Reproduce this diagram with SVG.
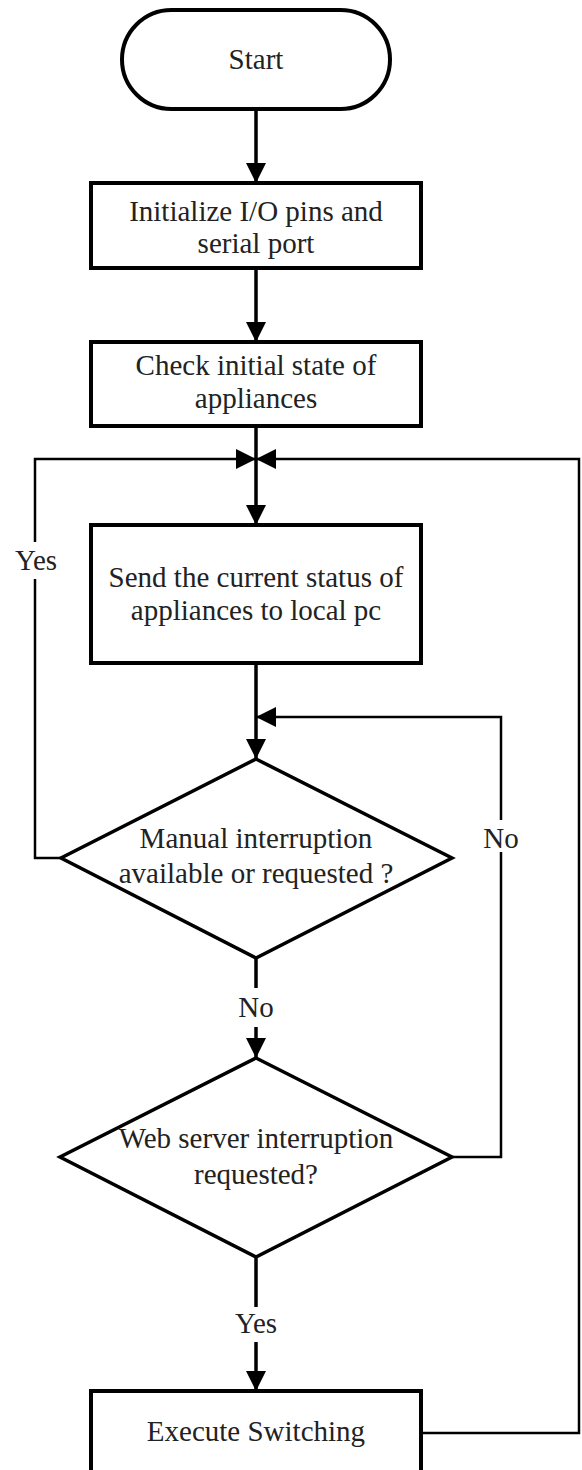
<svg xmlns="http://www.w3.org/2000/svg" width="582" height="1470" viewBox="0 0 582 1470">
  <style>
    .shape { fill: #fff; stroke: #000; stroke-width: 4; }
    .diam { fill: #fff; stroke: #000; stroke-width: 3.5; stroke-linejoin: miter; }
    .flow { fill: none; stroke: #000; stroke-width: 3.5; }
    .loop { fill: none; stroke: #000; stroke-width: 2.5; }
    text { font-family: "Liberation Serif", "Times New Roman", serif; font-size: 29px; fill: #222; text-anchor: middle; }
  </style>
  <defs>
    <marker id="arrow" viewBox="0 0 20 20" refX="20" refY="10" markerWidth="20" markerHeight="20" markerUnits="userSpaceOnUse" orient="auto">
      <path d="M0,0 L20,10 L0,20 z" fill="#000"/>
    </marker>
  </defs>

  <rect width="582" height="1470" fill="#fff"/>

  <!-- connectors -->
  <g id="connectors">
    <line class="flow" x1="256" y1="109" x2="256" y2="183" marker-end="url(#arrow)"/>
    <line class="flow" x1="256" y1="268" x2="256" y2="342" marker-end="url(#arrow)"/>
    <line class="flow" x1="256" y1="426" x2="256" y2="525" marker-end="url(#arrow)"/>
    <line class="flow" x1="256" y1="663" x2="256" y2="759" marker-end="url(#arrow)"/>
    <!-- decision 1: No, down to decision 2 -->
    <line class="flow" x1="256" y1="958" x2="256" y2="988"/>
    <line class="flow" x1="256" y1="1027" x2="256" y2="1058" marker-end="url(#arrow)"/>
    <!-- decision 2: Yes, down to switching -->
    <line class="flow" x1="256" y1="1257" x2="256" y2="1307"/>
    <line class="flow" x1="256" y1="1342" x2="256" y2="1391" marker-end="url(#arrow)"/>
    <!-- decision 1: Yes, back to status send -->
    <polyline class="loop" points="61,858 35,858 35,579"/>
    <polyline class="loop" points="35,542 35,459 256,459" marker-end="url(#arrow)"/>
    <!-- decision 2: No, back to decision 1 -->
    <polyline class="loop" points="452,1157 501,1157 501,852"/>
    <polyline class="loop" points="501,820 501,717 256,717" marker-end="url(#arrow)"/>
    <!-- after switching, back to status send -->
    <polyline class="loop" points="421,1433 579,1433 579,459 256,459" marker-end="url(#arrow)"/>
  </g>

  <g id="start">
    <rect class="shape" x="122" y="10" width="268" height="99" rx="49.5" ry="49.5"/>
    <text x="256" y="69">Start</text>
  </g>

  <g id="init">
    <rect class="shape" x="91" y="183" width="330" height="85"/>
    <text x="256" y="221">Initialize I/O pins and</text>
    <text x="256" y="253">serial port</text>
  </g>

  <g id="check">
    <rect class="shape" x="91" y="342" width="330" height="84"/>
    <text x="256" y="375">Check initial state of</text>
    <text x="256" y="408">appliances</text>
  </g>

  <g id="send-status">
    <rect class="shape" x="91" y="525" width="330" height="138"/>
    <text x="256" y="587">Send the current status of</text>
    <text x="256" y="620">appliances to local pc</text>
  </g>

  <g id="manual-check">
    <polygon class="diam" points="256,759 452,858 256,958 61,858"/>
    <text x="256" y="848">Manual interruption</text>
    <text x="256" y="883">available or requested ?</text>
  </g>

  <g id="web-check">
    <polygon class="diam" points="256,1058 452,1157 256,1257 60,1157"/>
    <text x="256" y="1148">Web server interruption</text>
    <text x="256" y="1184">requested?</text>
  </g>

  <g id="execute">
    <rect class="shape" x="91" y="1391" width="330" height="110"/>
    <text x="256" y="1441">Execute Switching</text>
  </g>

  <g id="labels">
    <text x="36" y="570">Yes</text>
    <text x="501" y="848">No</text>
    <text x="256" y="1017">No</text>
    <text x="256" y="1333">Yes</text>
  </g>
</svg>
